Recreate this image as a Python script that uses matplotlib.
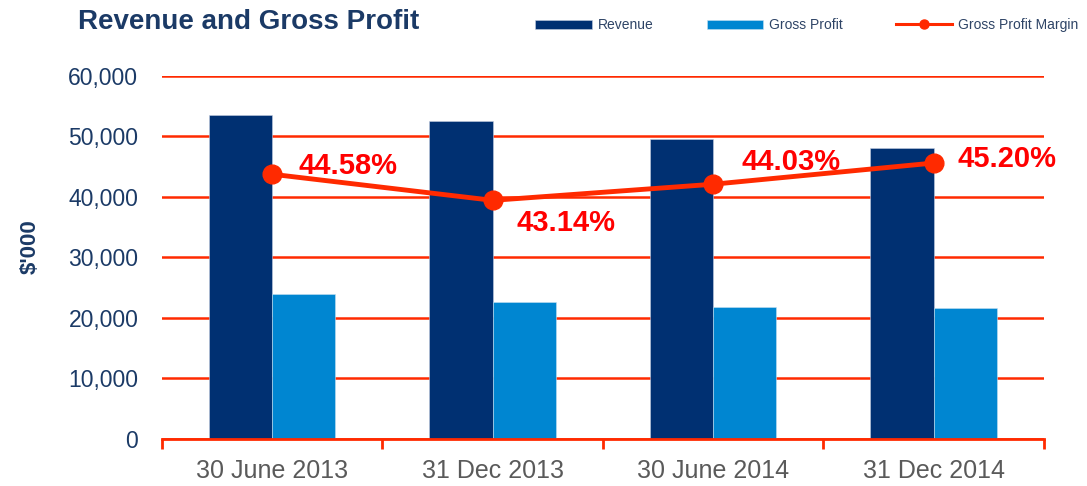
import matplotlib
matplotlib.use("Agg")
import matplotlib.pyplot as plt
import numpy as np
from matplotlib.ticker import FuncFormatter, FixedLocator

plt.rcParams['font.family'] = ['Liberation Sans', 'DejaVu Sans']

categories = ["30 June 2013", "31 Dec 2013", "30 June 2014", "31 Dec 2014"]
revenue = [53600, 52500, 49500, 48100]
gross_profit = [23900, 22600, 21700, 21600]
margin = [44.58, 43.14, 44.03, 45.20]
margin_labels = ["44.58%", "43.14%", "44.03%", "45.20%"]

NAVY = "#003072"
BLUE = "#0086D1"
RED = "#FF2A00"
TXT = "#1B3A66"

fig = plt.figure(figsize=(10.87, 4.86), dpi=100)
ax = fig.add_axes([0.149, 0.0977, 0.8114, 0.7459])

x = np.arange(len(categories))
w = 0.287
ax.bar(x - w / 2, revenue, w, color=NAVY, edgecolor="#c5cde0", linewidth=0.4, label="Revenue", zorder=3)
ax.bar(x + w / 2, gross_profit, w, color=BLUE, edgecolor="#c5e0f0", linewidth=0.4, label="Gross Profit", zorder=3)

ax.set_xlim(-0.5, len(categories) - 0.5)
ax.set_ylim(0, 60000)
ax.set_yticks(np.arange(0, 60001, 10000))
ax.yaxis.set_major_formatter(FuncFormatter(lambda v, p: f"{int(v):,}"))
ax.grid(axis="y", color=RED, linewidth=1.8, zorder=1)
ax.set_axisbelow(True)
for s in ["left", "right", "top"]:
    ax.spines[s].set_visible(False)
ax.spines["bottom"].set_color(RED)
ax.spines["bottom"].set_linewidth(2)
ax.spines["bottom"].set_zorder(4)

ax.set_xticks(x)
ax.set_xticklabels(categories)
ax.tick_params(axis="x", which="major", length=0, pad=15, labelsize=18, labelcolor="#5a5a5a")
ax.xaxis.set_minor_locator(FixedLocator(np.arange(-0.5, len(categories), 1.0)))
ax.tick_params(axis="x", which="minor", length=7, width=2, color=RED)
ax.tick_params(axis="y", length=0, pad=17, labelsize=16.5, labelcolor=TXT)

fig.text(30 / 1087, 1 - 247 / 486, "$'000", rotation=90, fontsize=16, fontweight="bold",
         color=TXT, ha="center", va="center")

ax2 = ax.twinx()
ax2.set_ylim(30, 50)
ax2.axis("off")
ln, = ax2.plot(x, margin, color=RED, linewidth=3.5, marker="o", markersize=13.5,
               label="Gross Profit Margin", zorder=5)
offsets = [(0.12, 0.45), (0.11, -1.25), (0.13, 1.2), (0.11, 0.22)]
for xi, m, lab, (dx, dy) in zip(x, margin, margin_labels, offsets):
    ax2.text(xi + dx, m + dy, lab, color="#FF0000", fontsize=21, fontweight="bold",
             ha="left", va="center", zorder=6)

fig.text(0.072, 1 - 29 / 486, "Revenue and Gross Profit", fontsize=20, fontweight="bold",
         color=TXT, ha="left", va="baseline")

h1, l1 = ax.get_legend_handles_labels()
leg = fig.legend(h1 + [ln], l1 + ["Gross Profit Margin"], loc="center right",
                 bbox_to_anchor=(1.0035, 1 - 25 / 486), ncol=3, frameon=False, fontsize=10,
                 handlelength=4.1, handleheight=0.62, handletextpad=0.4,
                 columnspacing=3.8, labelcolor="#2E4466")
for h in leg.legend_handles[2:]:
    h.set_markersize(6.5)
    h.set_linewidth(2.2)

fig.savefig("out.png", dpi=100)
